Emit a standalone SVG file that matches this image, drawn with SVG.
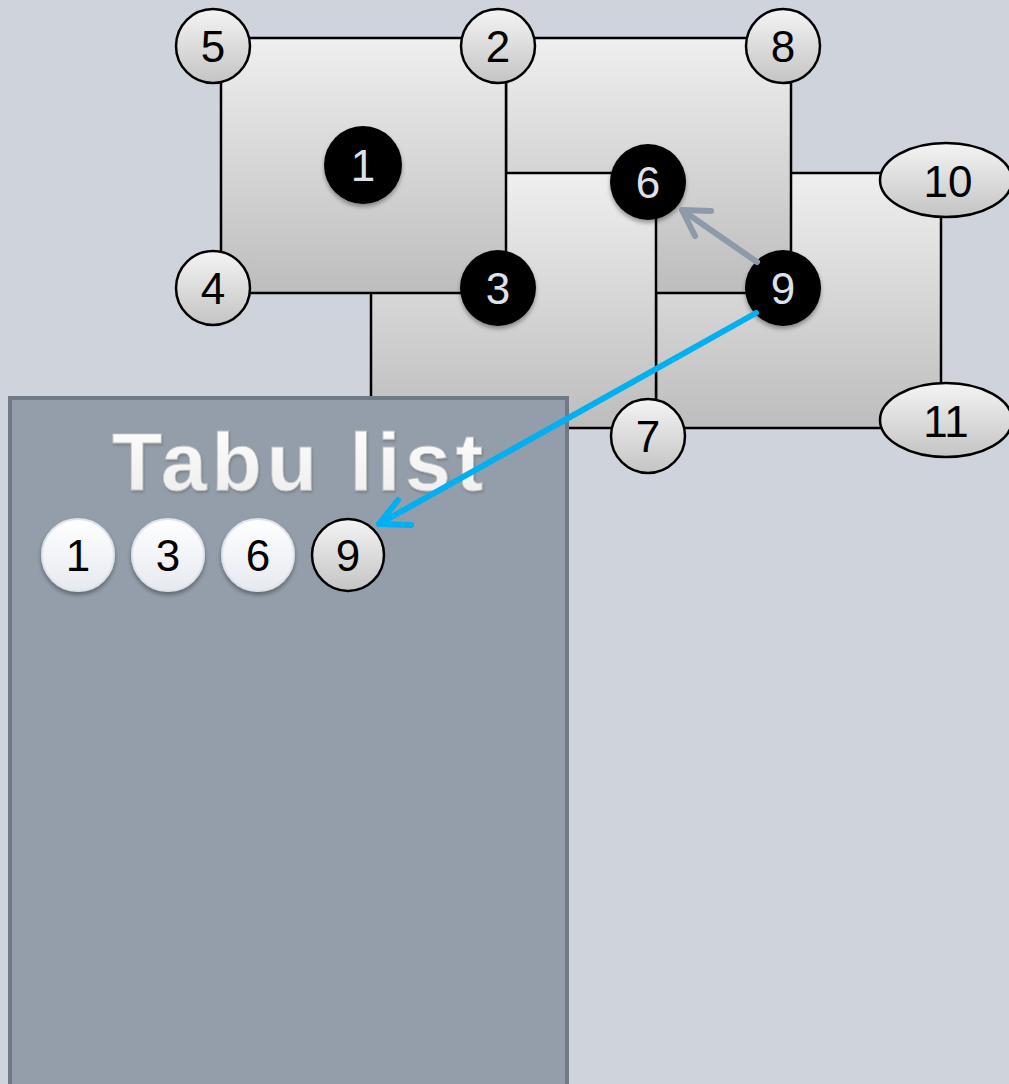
<svg xmlns="http://www.w3.org/2000/svg" width="1009" height="1084" viewBox="0 0 1009 1084">
<defs>
<linearGradient id="sq" x1="0" y1="0" x2="0" y2="1"><stop offset="0" stop-color="#efefef"/><stop offset="1" stop-color="#bdbdbd"/></linearGradient>
<linearGradient id="nd" x1="0" y1="0" x2="0" y2="1"><stop offset="0" stop-color="#f4f4f4"/><stop offset="1" stop-color="#c4c4c4"/></linearGradient>
<linearGradient id="wt" x1="0" y1="0" x2="0" y2="1"><stop offset="0" stop-color="#ffffff"/><stop offset="1" stop-color="#e6e9f0"/></linearGradient>
<linearGradient id="tt" x1="0" y1="0" x2="0" y2="1"><stop offset="0" stop-color="#ffffff"/><stop offset="1" stop-color="#ececec"/></linearGradient>
<filter id="sh" x="-20%" y="-20%" width="140%" height="150%"><feDropShadow dx="0" dy="3" stdDeviation="2" flood-color="#000" flood-opacity="0.35"/></filter>
<filter id="tsh" x="-10%" y="-20%" width="120%" height="150%"><feDropShadow dx="1" dy="2" stdDeviation="1.2" flood-color="#666" flood-opacity="0.5"/></filter>
</defs>
<style>
.sq{fill:url(#sq);stroke:#000;stroke-width:2.5}
.on{fill:url(#nd);stroke:#000;stroke-width:2.5}
.bn{fill:#000;filter:url(#sh)}
.wn{fill:url(#wt);stroke:#dfe3ea;stroke-width:2;filter:url(#sh)}
.t{font-family:"Liberation Sans",Arial,sans-serif;font-size:44px;text-anchor:middle;fill:#000}
.tb{font-family:"Liberation Sans",Arial,sans-serif;font-size:44px;text-anchor:middle;fill:#dde2ea}
</style>
<rect width="1009" height="1084" fill="#cfd3dc"/>
<g id="squares">
<rect id="sqD" class="sq" x="656" y="173" width="285" height="255"/>
<rect id="sqB" class="sq" x="506" y="38" width="285" height="255"/>
<rect id="sqC" class="sq" x="371" y="173" width="285" height="255"/>
<rect id="sqA" class="sq" x="221" y="38" width="285" height="255"/>
</g>
<g id="tabu">
<rect x="10" y="398" width="557" height="700" fill="#939eaa" stroke="#6f7a86" stroke-width="4"/>
<text x="300" y="490" font-family="Liberation Sans,Arial,sans-serif" font-size="82" font-weight="bold" letter-spacing="5" text-anchor="middle" fill="url(#tt)" stroke="#bdbdbd" stroke-width="0.8" filter="url(#tsh)">Tabu list</text>
</g>
<g id="n5"><circle class="on" cx="213" cy="46" r="37"/><text class="t" x="213" y="62">5</text></g>
<g id="n2"><circle class="on" cx="498" cy="46" r="37"/><text class="t" x="498" y="62">2</text></g>
<g id="n8"><circle class="on" cx="783" cy="46" r="37"/><text class="t" x="783" y="62">8</text></g>
<g id="n4"><circle class="on" cx="213" cy="288" r="37"/><text class="t" x="213" y="304">4</text></g>
<g id="n7"><circle class="on" cx="648" cy="436" r="37"/><text class="t" x="648" y="452">7</text></g>
<g id="n10"><ellipse class="on" cx="946" cy="180" rx="66" ry="37"/><text class="t" x="948" y="197">10</text></g>
<g id="n11"><ellipse class="on" cx="946" cy="420" rx="66" ry="37"/><text class="t" x="946" y="437">11</text></g>
<g id="n1"><circle class="bn" cx="363" cy="165" r="39"/><text class="tb" x="363" y="181">1</text></g>
<g id="n3"><circle class="bn" cx="498" cy="288" r="38"/><text class="tb" x="498" y="304">3</text></g>
<g id="n6"><circle class="bn" cx="648" cy="182" r="38"/><text class="tb" x="648" y="198">6</text></g>
<g id="n9"><circle class="bn" cx="783" cy="288" r="38"/><text class="tb" x="783" y="304">9</text></g>
<g id="t1"><circle class="wn" cx="78" cy="555" r="36"/><text class="t" x="78" y="571">1</text></g>
<g id="t3"><circle class="wn" cx="168" cy="555" r="36"/><text class="t" x="168" y="571">3</text></g>
<g id="t6"><circle class="wn" cx="258" cy="555" r="36"/><text class="t" x="258" y="571">6</text></g>
<g id="t9"><circle class="on" cx="348" cy="555" r="36"/><text class="t" x="348" y="571">9</text></g>
<g id="connectors" fill="none" stroke-width="6" stroke-linecap="round" stroke-linejoin="round">
<path d="M757,262 L682,210" stroke="#8e9aa9"/>
<path d="M711,211 L682,210 L695,236" stroke="#8e9aa9"/>
<path d="M756,313 L379,524" stroke="#00b0f0"/>
<path d="M398,500 L379,524 L411,525" stroke="#00b0f0"/>
</g>
</svg>
